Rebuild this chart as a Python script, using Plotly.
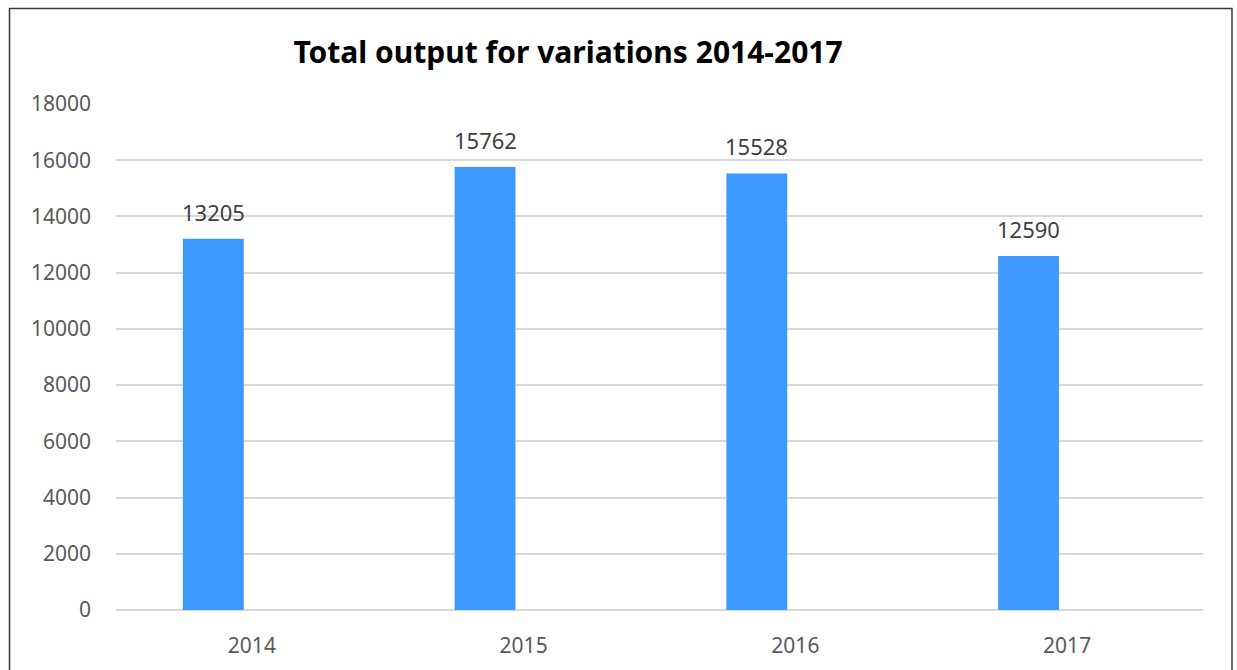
import plotly.graph_objects as go

years = ["2014", "2015", "2016", "2017"]
output = [13205, 15762, 15528, 12590]
y_ticks = [0, 2000, 4000, 6000, 8000, 10000, 12000, 14000, 16000, 18000]

W, H = 1237, 670
L, R, T, B = 116, 34, 104, 60
pw, ph = W - L - R, H - T - B

BAR_OFFSET = -0.254
BAR_WIDTH = 0.224
FONT = "Noto Sans"

fig = go.Figure()
fig.add_trace(go.Bar(
    x=years, y=output,
    offset=BAR_OFFSET, width=BAR_WIDTH,
    marker=dict(color="#3d98ff", line=dict(width=0)),
    hoverinfo="x+y",
))

for i, v in enumerate(output):
    fig.add_annotation(
        x=i + BAR_OFFSET + BAR_WIDTH / 2, y=v, xref="x", yref="y",
        text=str(v), showarrow=False, yanchor="bottom", yshift=10,
        font=dict(family=FONT, size=22, color="#404040"),
    )

fig.update_layout(
    width=W, height=H,
    margin=dict(l=L, r=R, t=T, b=B),
    paper_bgcolor="white", plot_bgcolor="white",
    showlegend=False,
    title=dict(
        text="<b>Total output for variations 2014-2017</b>",
        x=(568) / W, xanchor="center", y=1 - 52 / H, yanchor="middle",
        font=dict(family=FONT, size=30, color="#000000"),
    ),
    xaxis=dict(
        type="category", showgrid=False, zeroline=False, showline=False,
        tickfont=dict(family=FONT, size=21, color="#595959"),
        ticklabelstandoff=21, ticks="",
    ),
    yaxis=dict(
        range=[0, 18000], tickvals=y_ticks, ticktext=[str(t) for t in y_ticks],
        showgrid=True, gridcolor="#d9d9d9", gridwidth=2,
        zeroline=True, zerolinecolor="#d9d9d9", zerolinewidth=2,
        showline=False, ticks="",
        tickfont=dict(family=FONT, size=21, color="#595959"),
        ticklabelstandoff=24,
    ),
)

# outer chart border
fig.add_shape(
    type="rect", xref="paper", yref="paper",
    x0=(9.5 - L) / pw, x1=(1232 - L) / pw,
    y0=-0.3, y1=(H - B - 8.5) / ph,
    line=dict(color="#3a3a3a", width=1.5), fillcolor="rgba(0,0,0,0)",
    layer="above",
)

fig.write_html("out.html")
